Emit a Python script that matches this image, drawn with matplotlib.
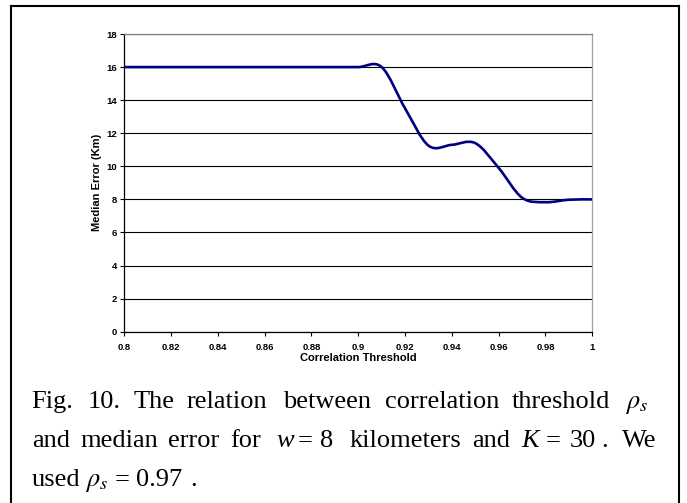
import matplotlib
matplotlib.use("Agg")
import matplotlib.pyplot as plt
from matplotlib.path import Path
from matplotlib.patches import PathPatch
from matplotlib.lines import Line2D

plt.rcParams['mathtext.fontset'] = 'stix'

# Data (correlation threshold vs median error)
thresholds = [0.80, 0.81, 0.82, 0.83, 0.84, 0.85, 0.86, 0.87, 0.88, 0.89, 0.90,
              0.91, 0.92, 0.93, 0.94, 0.95, 0.96, 0.97, 0.98, 0.99, 1.00]
median_err = [16, 16, 16, 16, 16, 16, 16, 16, 16, 16, 16,
              16, 13.5, 11.25, 11.3, 11.4, 9.9, 8.1, 7.83, 7.98, 8.0]

x_ticks = [0.8, 0.82, 0.84, 0.86, 0.88, 0.9, 0.92, 0.94, 0.96, 0.98, 1.0]
x_tick_labels = ['0.8', '0.82', '0.84', '0.86', '0.88', '0.9', '0.92', '0.94', '0.96', '0.98', '1']
y_ticks = [0, 2, 4, 6, 8, 10, 12, 14, 16, 18]

W, H = 687, 503
fig = plt.figure(figsize=(W / 100, H / 100), dpi=100)
fig.patch.set_facecolor('white')

ax = fig.add_axes([124.3 / W, 1 - 331.7 / H, 468 / W, 297.7 / H])
ax.set_xlim(0.8, 1.0)
ax.set_ylim(0, 18)

# smoothed line like Excel: Catmull-Rom segments drawn as cubic Bezier curves
pts = list(zip(thresholds, median_err))
verts = [pts[0]]
codes = [Path.MOVETO]
for i in range(len(pts) - 1):
    p0 = pts[i - 1] if i > 0 else pts[i]
    p1 = pts[i]
    p2 = pts[i + 1]
    p3 = pts[i + 2] if i + 2 < len(pts) else pts[i + 1]
    c1 = (p1[0] + (p2[0] - p0[0]) / 6, p1[1] + (p2[1] - p0[1]) / 6)
    c2 = (p2[0] - (p3[0] - p1[0]) / 6, p2[1] - (p3[1] - p1[1]) / 6)
    verts += [c1, c2, p2]
    codes += [Path.CURVE4, Path.CURVE4, Path.CURVE4]
ax.add_patch(PathPatch(Path(verts, codes), fill=False, edgecolor='#000080',
                       linewidth=1.9, capstyle='round', joinstyle='round', zorder=3))

ax.set_yticks(y_ticks)
ax.set_xticks(x_ticks)
ax.set_xticklabels(x_tick_labels)
ax.yaxis.grid(True, color='black', linewidth=0.8)
ax.set_axisbelow(True)
for lab in ax.get_xticklabels() + ax.get_yticklabels():
    lab.set_fontfamily('Liberation Sans')
    lab.set_fontweight('bold')
    lab.set_fontsize(6.8)
ax.tick_params(axis='both', direction='out', length=3, width=0.8, pad=2)
ax.tick_params(axis='x', pad=5)

ax.spines['left'].set_color('black')
ax.spines['bottom'].set_color('black')
ax.spines['top'].set_color('#808080')
ax.spines['right'].set_color('#a0a0a0')
for s in ax.spines.values():
    s.set_linewidth(0.9)

ax.set_xlabel('Correlation Threshold', fontfamily='Liberation Sans', fontweight='bold',
              fontsize=8, labelpad=1)
ax.set_ylabel('Median Error (Km)', fontfamily='Liberation Sans', fontweight='bold',
              fontsize=8, labelpad=3)

# outer frame (open at the bottom)
for xs, ys in [((11, 11), (H, 5.7)), ((11, 679.3), (5.7, 5.7)), ((679.3, 679.3), (5.7, H))]:
    fig.add_artist(Line2D([x / W for x in xs], [1 - y / H for y in ys],
                          color='black', linewidth=1.5, transform=fig.transFigure))

# caption, word by word to copy the justified layout
def put(x, y, s, italic=False):
    fig.text(x / W, 1 - y / H, s, fontsize=19, fontfamily='Liberation Serif',
             style='italic' if italic else 'normal', ha='left', va='baseline')

line1 = [(31.7, 'Fig.'), (87.5, '10.'), (133.3, 'The'), (186.7, 'relation'),
         (283.5, 'between'), (385, 'correlation'), (511.7, 'threshold'), (625, r'$\rho_s$')]
line2 = [(31.7, 'and'), (80, 'median'), (168.3, 'error'), (230, 'for'),
         (298, '='), (320, '8'), (350, 'kilometers'), (471.7, 'and'),
         (545.5, '='), (570, '30'), (601.7, '.'), (621.7, 'We')]
line3 = [(31.7, 'used'), (85, r'$\rho_s$'), (115, '='), (136, '0.97'), (190, '.')]
for x, s in line1:
    put(x, 408, s)
for x, s in line2:
    put(x, 447, s)
put(276.7, 447, 'w', italic=True)
put(521.7, 447, 'K', italic=True)
for x, s in line3:
    put(x, 486, s)

fig.savefig('out.png', dpi=100)
